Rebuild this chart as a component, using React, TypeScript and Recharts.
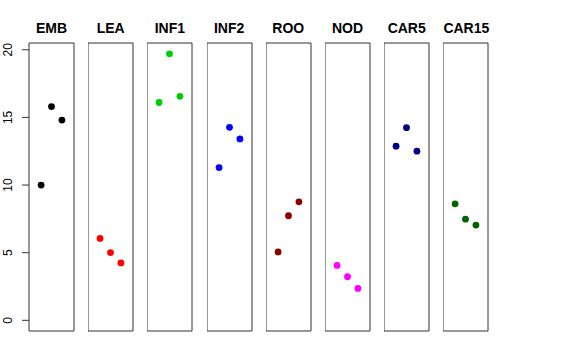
import { ScatterChart, Scatter, XAxis, YAxis, ReferenceArea } from 'recharts';

// panel names, point colours and the three values shown in each panel
const panels = ['EMB', 'LEA', 'INF1', 'INF2', 'ROO', 'NOD', 'CAR5', 'CAR15'];
const colors = ['#000000', '#FF0000', '#00CD00', '#0000FF', '#8B0000', '#FF00FF', '#000080', '#006400'];
const positions = [1, 2, 3];
const embValues = [10.0, 15.8, 14.8];
const leaValues = [6.05, 5.0, 4.24];
const inf1Values = [16.1, 19.7, 16.56];
const inf2Values = [11.29, 14.27, 13.41];
const rooValues = [5.05, 7.73, 8.76];
const nodValues = [4.06, 3.22, 2.36];
const car5Values = [12.87, 14.24, 12.5];
const car15Values = [8.61, 7.48, 7.04];
const yTicks = [0, 5, 10, 15, 20];

const allValues = [embValues, leaValues, inf1Values, inf2Values, rooValues, nodValues, car5Values, car15Values];

const X_DOMAIN: [number, number] = [-0.16, 4.16];
const Y_DOMAIN: [number, number] = [-0.79, 20.5];
const PANEL_W = 45;
const PANEL_STEP = 59.2;
const FIRST_LEFT = 29;
const AXIS_W = 29;
const TOP = 43;
const BOTTOM = 29;
const HEIGHT = 360;

const Dot = (props: any) => {
  const { cx, cy, fill } = props;
  return <circle cx={cx} cy={cy} r={3.4} fill={fill} />;
};

const YTick = (props: any) => {
  const { x, y, payload } = props;
  const tx = x - 7.5;
  return (
    <text
      x={tx}
      y={y}
      transform={`rotate(-90 ${tx} ${y})`}
      textAnchor="middle"
      fontSize={12}
      fill="#000"
      fontFamily="'Liberation Sans', Arial, sans-serif"
    >
      {payload.value}
    </text>
  );
};

function Panel({ index }: { index: number }) {
  const withAxis = index === 0;
  const left = FIRST_LEFT + index * PANEL_STEP;
  const data = positions.map((p, i) => ({ x: p, y: allValues[index][i] }));
  const width = withAxis ? PANEL_W + AXIS_W + 1 : PANEL_W + 1;
  return (
    <div style={{ position: 'absolute', left: withAxis ? left - AXIS_W : left, top: 0 }}>
      <div
        style={{
          position: 'absolute',
          left: withAxis ? AXIS_W : 0,
          width: PANEL_W,
          top: 20,
          textAlign: 'center',
          fontFamily: "'Liberation Sans', Arial, sans-serif",
          fontWeight: 'bold',
          fontSize: 14,
          lineHeight: '17px',
          whiteSpace: 'nowrap',
        }}
      >
        {panels[index]}
      </div>
      <ScatterChart
        width={width}
        height={HEIGHT}
        margin={{ top: TOP, bottom: BOTTOM, left: 0, right: 1 }}
      >
        <XAxis type="number" dataKey="x" domain={X_DOMAIN} hide />
        <YAxis
          type="number"
          dataKey="y"
          domain={Y_DOMAIN}
          ticks={yTicks}
          hide={!withAxis}
          width={AXIS_W}
          axisLine={false}
          tickSize={7}
          tickLine={{ stroke: '#333', strokeWidth: 1 }}
          tick={<YTick />}
          allowDataOverflow
        />
        <ReferenceArea
          x1={X_DOMAIN[0]}
          x2={X_DOMAIN[1]}
          y1={Y_DOMAIN[0]}
          y2={Y_DOMAIN[1]}
          fill="none"
          stroke="#333"
          strokeWidth={1}
          ifOverflow="visible"
        />
        <Scatter data={data} fill={colors[index]} shape={<Dot />} isAnimationActive={false} />
      </ScatterChart>
    </div>
  );
}

export default function App() {
  return (
    <div style={{ position: 'absolute', left: 0, top: 0, width: 576, height: 360, background: '#fff' }}>
      {panels.map((_, i) => (
        <Panel key={panels[i]} index={i} />
      ))}
    </div>
  );
}
